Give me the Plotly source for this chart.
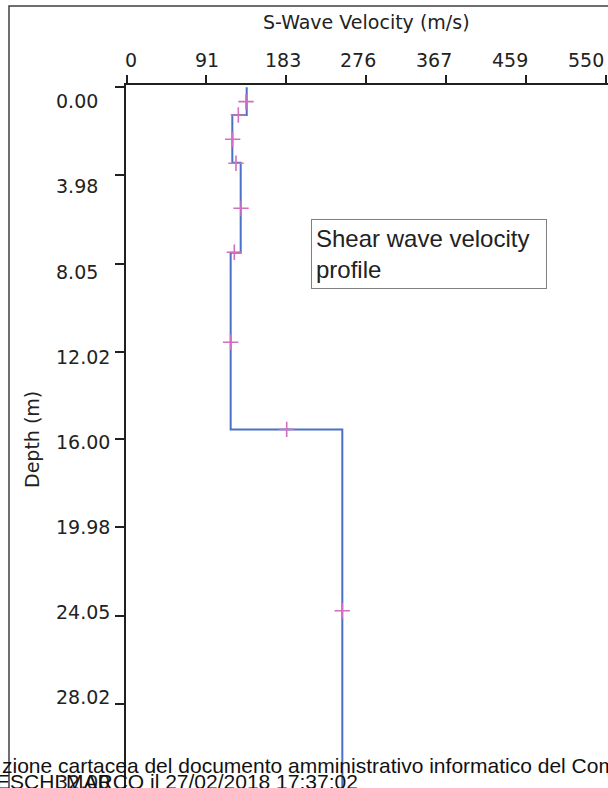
import plotly.graph_objects as go

# layered shear wave model (top of each layer, velocity)
layer_top = [0.0, 1.26, 3.43, 7.52, 15.55]
layer_vs = [137.9, 121.4, 131.0, 119.5, 247.6]
profile_bottom = 35.0

# pink "+" points
pt_vs = [137.1, 128.3, 121.8, 125.6, 131.4, 123.7, 119.5, 183.8, 247.5]
pt_depth = [0.65, 1.26, 2.36, 3.45, 5.50, 7.50, 11.59, 15.55, 23.79]

# axis ticks
vs_ticks = [0, 91.67, 183.33, 275.0, 366.67, 458.33, 550.0]
vs_labels = ["0", "91", "183", "276", "367", "459", "550"]
depth_ticks = [0.0, 3.98, 8.05, 12.02, 16.00, 19.98, 24.05, 28.02, 32.00]
depth_labels = ["0.00", "3.98", "8.05", "12.02", "16.00", "19.98", "24.05", "28.02", "32.00"]

footer1 = "zione cartacea del documento amministrativo informatico del Com"
footer2 = "ESCHI MARCO il 27/02/2018 17:37:02"

W, H = 608, 788
L, T = 126, 85
tick_font = dict(family="DejaVu Sans", size=19, color="#222222")


def px_x(p):
    return (p - L) / (W - L)


def px_y(p):
    return 1 - (p - T) / (H - T)


fig = go.Figure()

fig.add_trace(go.Scatter(
    x=layer_vs + [layer_vs[-1]],
    y=layer_top + [profile_bottom],
    mode="lines",
    line=dict(color="#4a70c8", width=2, shape="vh"),
    showlegend=False,
))
fig.add_trace(go.Scatter(
    x=pt_vs, y=pt_depth,
    mode="markers",
    marker=dict(symbol="cross-thin", size=11, line=dict(color="#d070c0", width=1.6)),
    showlegend=False,
))

fig.update_xaxes(
    side="top", range=[-0.57, 552.4],
    tickvals=vs_ticks, showticklabels=False,
    ticks="outside", ticklen=8, tickwidth=1.5, tickcolor="#202020",
    showline=True, linecolor="#202020", linewidth=1.5,
    showgrid=False, zeroline=False,
)
fig.update_yaxes(
    range=[31.85, -0.105],
    tickvals=depth_ticks, showticklabels=False,
    ticks="outside", ticklen=9, tickwidth=1.5, tickcolor="#202020",
    showline=True, linecolor="#202020", linewidth=1.5,
    showgrid=False, zeroline=False,
)

ann = []
# tick labels drift a little from the ticks in the original, so place them by hand
for i, lab in enumerate(vs_labels):
    ann.append(dict(x=5 + i * 87.0, y=px_y(60), xref="x", yref="paper",
                    text=lab, showarrow=False, font=tick_font,
                    xanchor="center", yanchor="middle"))
for i, lab in enumerate(depth_labels):
    ann.append(dict(x=px_x(54), y=0.64 + i * 3.868, xref="paper", yref="y",
                    text=lab, showarrow=False, font=tick_font,
                    xanchor="left", yanchor="middle"))

ann.append(dict(x=px_x(366), y=px_y(22), xref="paper", yref="paper",
                text="S-Wave Velocity (m/s)", showarrow=False, font=tick_font,
                xanchor="center", yanchor="middle"))
ann.append(dict(x=px_x(32), y=px_y(440), xref="paper", yref="paper",
                text="Depth (m)", textangle=-90, showarrow=False, font=tick_font,
                xanchor="center", yanchor="middle"))

ann.append(dict(x=px_x(311), y=px_y(219), xref="paper", yref="paper",
                text="Shear wave velocity<br>profile", align="left",
                showarrow=False, xanchor="left", yanchor="top",
                width=226, height=60,
                font=dict(family="Liberation Sans", size=24, color="#222222"),
                bgcolor="white", bordercolor="#808080", borderwidth=1, borderpad=4))

foot_font = dict(family="Liberation Sans", size=21, color="#111111")
ann.append(dict(x=px_x(0), y=px_y(765), xref="paper", yref="paper",
                text=footer1, showarrow=False, font=foot_font,
                xanchor="left", yanchor="middle"))
ann.append(dict(x=px_x(-6), y=px_y(781), xref="paper", yref="paper",
                text=footer2, showarrow=False, font=foot_font,
                xanchor="left", yanchor="middle"))

fig.update_layout(
    width=W, height=H,
    margin=dict(l=L, r=0, t=T, b=0),
    paper_bgcolor="white", plot_bgcolor="white",
    annotations=ann,
    shapes=[dict(type="rect", xref="paper", yref="paper",
                 x0=px_x(9), x1=px_x(700), y0=px_y(900), y1=px_y(6),
                 line=dict(color="#404040", width=1.5), layer="below")],
)

fig.write_html("out.html", config={"displayModeBar": False},
               post_script="document.body.style.margin='0';document.body.style.overflow='hidden';")
